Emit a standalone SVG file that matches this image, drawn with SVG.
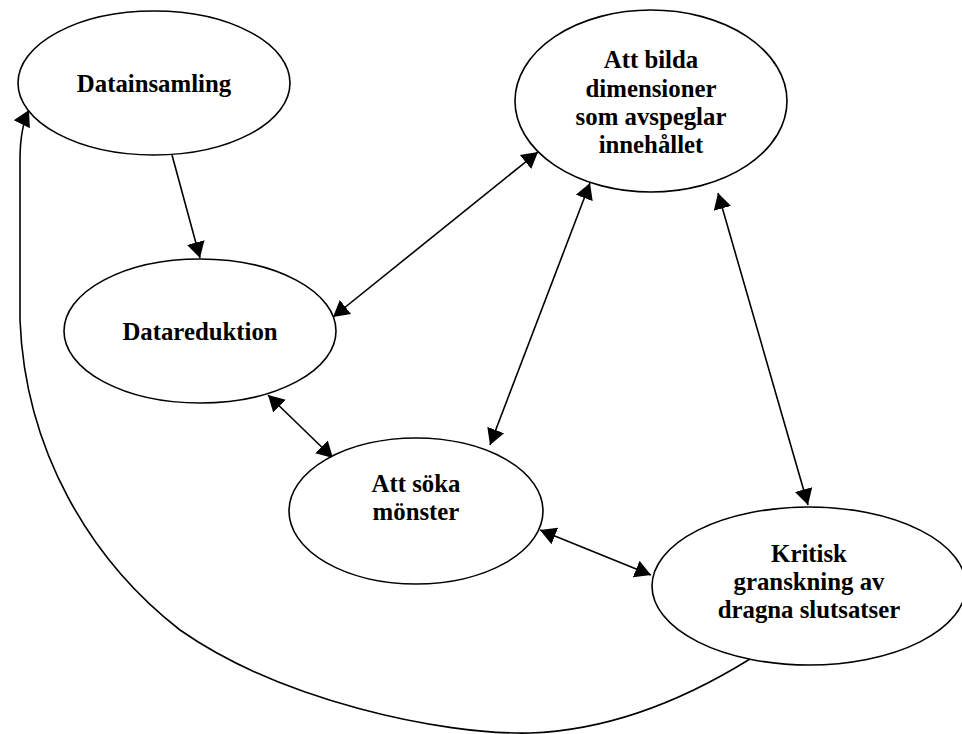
<svg xmlns="http://www.w3.org/2000/svg" width="962" height="734" viewBox="0 0 962 734">
<style>
.node ellipse{fill:#fff;stroke:#000;stroke-width:1.6}
.node text{font-family:"Liberation Serif","Times New Roman",serif;font-weight:bold;font-size:24.8px;fill:#000;text-anchor:middle}
.conn path,.conn line{fill:none;stroke:#000;stroke-width:1.6}
</style>
<defs>
<marker id="ah" markerUnits="userSpaceOnUse" markerWidth="18" markerHeight="20" refX="16" refY="10" orient="auto-start-reverse" viewBox="0 0 18 20">
<path d="M0,1 L16,10 L0,19 z" fill="#000"/>
</marker>
</defs>
<rect width="962" height="734" fill="#fff"/>
<g id="connectors" class="conn">
<line x1="172" y1="155" x2="200" y2="258" marker-end="url(#ah)"/>
<line x1="538" y1="152" x2="333" y2="317" marker-start="url(#ah)" marker-end="url(#ah)"/>
<line x1="590" y1="183" x2="490" y2="445" marker-start="url(#ah)" marker-end="url(#ah)"/>
<line x1="718" y1="193" x2="808" y2="505" marker-start="url(#ah)" marker-end="url(#ah)"/>
<line x1="268" y1="395" x2="333" y2="458" marker-start="url(#ah)" marker-end="url(#ah)"/>
<line x1="540" y1="530" x2="651" y2="575" marker-start="url(#ah)" marker-end="url(#ah)"/>
<path d="M750,659 C700,690 620,730 530,733 C440,735 280,700 180,630 C90,560 25,450 20,320 L20,160 C20,135 24,120 29,110" marker-end="url(#ah)"/>
</g>
<g id="datainsamling" class="node">
<ellipse cx="154" cy="83" rx="136" ry="72"/>
<text x="154" y="92">Datainsamling</text>
</g>
<g id="dimensioner" class="node">
<ellipse cx="651" cy="101" rx="136" ry="91"/>
<text x="651" y="68">Att bilda</text>
<text x="651" y="97">dimensioner</text>
<text x="651" y="125">som avspeglar</text>
<text x="651" y="153">innehållet</text>
</g>
<g id="datareduktion" class="node">
<ellipse cx="200" cy="331" rx="136" ry="72"/>
<text x="200" y="340">Datareduktion</text>
</g>
<g id="monster" class="node">
<ellipse cx="416" cy="511" rx="127" ry="73"/>
<text x="416" y="492">Att söka</text>
<text x="416" y="520">mönster</text>
</g>
<g id="kritisk" class="node">
<ellipse cx="809" cy="586" rx="157" ry="79"/>
<text x="809" y="562">Kritisk</text>
<text x="809" y="590">granskning av</text>
<text x="809" y="618">dragna slutsatser</text>
</g>
</svg>
